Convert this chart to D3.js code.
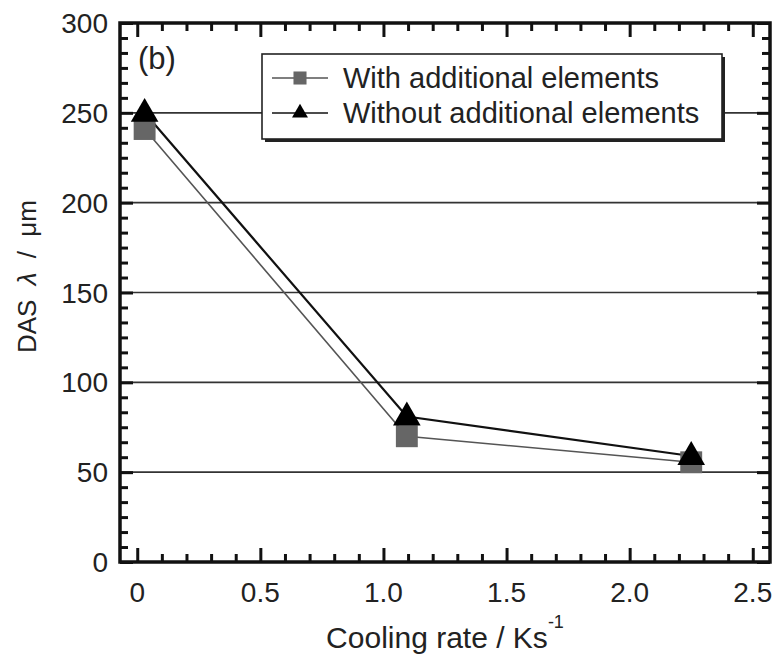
<!DOCTYPE html>
<head>
  <meta charset="utf-8">
  <script src="https://d3js.org/d3.v7.min.js"></script>
  <style>
    body { margin:0; background:#fff; }
    svg { display:block; }
    text { font-family: "Liberation Sans", Arial, sans-serif; fill:#222; }
  </style>
</head>
<body>
<div id="chart"></div>
<script>
  // data
  var coolingRate = [0.03, 1.095, 2.25];
  var dasWith     = [241, 70, 55.5];
  var dasWithout  = [250, 81, 59];
  var seriesNames = ["With additional elements", "Without additional elements"];
  var xTicks = [0, 0.5, 1.0, 1.5, 2.0, 2.5];
  var xTickLabels = ["0", "0.5", "1.0", "1.5", "2.0", "2.5"];
  var yTicks = [0, 50, 100, 150, 200, 250, 300];

  var width = 777, height = 656;
  var mLeft = 120, mRight = 770, mTop = 23, mBottom = 562;

  var svg = d3.select("#chart").append("svg")
      .attr("width", width)
      .attr("height", height);

  var x = d3.scaleLinear().domain([-0.07, 2.57]).range([mLeft, mRight]);
  var y = d3.scaleLinear().domain([0, 300]).range([mBottom, mTop]);

  // minor ticks (x every 0.1, y six per major step)
  var xMinor = d3.range(0, 26).filter(function(i) { return i % 5 != 0; })
      .map(function(i) { return i / 10; });
  var yMinor = d3.range(0, 37).filter(function(i) { return i % 6 != 0; })
      .map(function(i) { return i * 50 / 6; });

  // grid lines
  svg.append("g").selectAll("line")
      .data(yTicks.filter(function(v) { return v > 0 && v < 300; }))
    .enter().append("line")
      .attr("x1", mLeft).attr("x2", mRight)
      .attr("y1", function(d) { return y(d); })
      .attr("y2", function(d) { return y(d); })
      .style("stroke", "#333")
      .style("stroke-width", 1.6);

  // ticks on all four sides, pointing inward
  function tickGroup(axis, tx, ty) {
    var g = svg.append("g").attr("transform", "translate(" + tx + "," + ty + ")").call(axis);
    g.select(".domain").remove();
    g.selectAll("line").style("stroke", "#111").style("stroke-width", 3);
    return g;
  }
  tickGroup(d3.axisBottom(x).tickValues(xTicks).tickSize(-14).tickFormat(""), 0, mBottom);
  tickGroup(d3.axisBottom(x).tickValues(xMinor).tickSize(-8).tickFormat(""), 0, mBottom);
  tickGroup(d3.axisTop(x).tickValues(xTicks).tickSize(-14).tickFormat(""), 0, mTop);
  tickGroup(d3.axisTop(x).tickValues(xMinor).tickSize(-8).tickFormat(""), 0, mTop);
  tickGroup(d3.axisLeft(y).tickValues(yTicks).tickSize(-13).tickFormat(""), mLeft, 0);
  tickGroup(d3.axisLeft(y).tickValues(yMinor).tickSize(-8).tickFormat(""), mLeft, 0);
  tickGroup(d3.axisRight(y).tickValues(yTicks).tickSize(-13).tickFormat(""), mRight, 0);
  tickGroup(d3.axisRight(y).tickValues(yMinor).tickSize(-8).tickFormat(""), mRight, 0);

  // frame
  svg.append("rect")
      .attr("x", mLeft).attr("y", mTop)
      .attr("width", mRight - mLeft).attr("height", mBottom - mTop)
      .style("fill", "none")
      .style("stroke", "#111")
      .style("stroke-width", 3.5);

  // tick labels
  svg.append("g").selectAll("text")
      .data(yTicks)
    .enter().append("text")
      .attr("x", 108)
      .attr("y", function(d) { return y(d) + 10; })
      .attr("text-anchor", "end")
      .style("font-size", "28px")
      .text(function(d) { return d; });

  svg.append("g").selectAll("text")
      .data(xTicks)
    .enter().append("text")
      .attr("x", function(d) { return x(d); })
      .attr("y", 602)
      .attr("text-anchor", "middle")
      .style("font-size", "28px")
      .text(function(d, i) { return xTickLabels[i]; });

  // axis titles
  var xt = svg.append("text")
      .attr("x", 445).attr("y", 648)
      .attr("text-anchor", "middle")
      .style("font-size", "30px");
  xt.append("tspan").text("Cooling rate / Ks");
  xt.append("tspan").attr("dy", -20).style("font-size", "18px").text("-1");

  var yt = svg.append("text")
      .attr("transform", "translate(36,353) rotate(-90)")
      .attr("text-anchor", "start")
      .style("font-size", "26px")
      .style("word-spacing", "7px");
  yt.append("tspan").text("DAS ");
  yt.append("tspan").style("font-style", "italic").text("\u03bb");
  yt.append("tspan").text(" / \u03bcm");

  svg.append("text")
      .attr("x", 138).attr("y", 69)
      .style("font-size", "31px")
      .text("(b)");

  // series lines and markers
  var line = d3.line()
      .x(function(d) { return x(d[0]); })
      .y(function(d) { return y(d[1]); });

  var withPts = coolingRate.map(function(c, i) { return [c, dasWith[i]]; });
  var withoutPts = coolingRate.map(function(c, i) { return [c, dasWithout[i]]; });

  svg.append("path").datum(withPts)
      .attr("d", line)
      .style("fill", "none").style("stroke", "#555").style("stroke-width", 1.6);
  svg.append("path").datum(withoutPts)
      .attr("d", line)
      .style("fill", "none").style("stroke", "#111").style("stroke-width", 2.2);

  var square = d3.symbol().type(d3.symbolSquare).size(480);
  var triangle = d3.symbol().type(d3.symbolTriangle).size(330);

  svg.append("g").selectAll("path")
      .data(withPts)
    .enter().append("path")
      .attr("d", square)
      .attr("transform", function(d) { return "translate(" + x(d[0]) + "," + y(d[1]) + ")"; })
      .style("fill", "#666");

  svg.append("g").selectAll("path")
      .data(withoutPts)
    .enter().append("path")
      .attr("d", triangle)
      .attr("transform", function(d) { return "translate(" + x(d[0]) + "," + (y(d[1]) + 1) + ")"; })
      .style("fill", "#000");

  // legend
  var lg = svg.append("g");
  lg.append("rect")
      .attr("x", 265).attr("y", 57).attr("width", 460).attr("height", 85)
      .style("fill", "#222");
  lg.append("rect")
      .attr("x", 262).attr("y", 54).attr("width", 460).attr("height", 85)
      .style("fill", "#fff").style("stroke", "#222").style("stroke-width", 1.6);

  var rows = [
    { y: 78, color: "#555", sym: d3.symbol().type(d3.symbolSquare).size(170), fill: "#666" },
    { y: 113, color: "#111", sym: d3.symbol().type(d3.symbolTriangle).size(110), fill: "#000" }
  ];
  rows.forEach(function(r, i) {
    lg.append("line")
        .attr("x1", 272).attr("x2", 328)
        .attr("y1", r.y).attr("y2", r.y)
        .style("stroke", r.color).style("stroke-width", 1.6);
    lg.append("path")
        .attr("d", r.sym)
        .attr("transform", "translate(300," + r.y + ")")
        .style("fill", r.fill);
    lg.append("text")
        .attr("x", 343).attr("y", r.y + 10)
        .style("font-size", "29px")
        .text(seriesNames[i]);
  });
</script>
</body>
